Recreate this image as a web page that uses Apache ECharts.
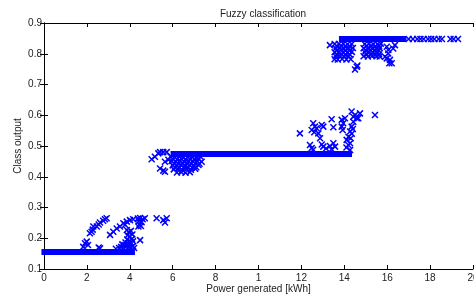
<!DOCTYPE html>
<html>
<head>
<meta charset="utf-8">
<script src="https://cdn.jsdelivr.net/npm/echarts@6/dist/echarts.min.js"></script>
<style>
html, body { margin: 0; padding: 0; background: #fff; }
#chart { width: 474px; height: 297px; }
</style>
</head>
<body>
<div id="chart"></div>
<script>
// axis ticks
var xTicks = [0, 2, 4, 6, 8, 10, 12, 14, 16, 18, 20];
var yTicks = [0.1, 0.2, 0.3, 0.4, 0.5, 0.6, 0.7, 0.8, 0.9];

// the three saturated plateaus (so dense they read as solid bars): [xStart, xEnd, y]
var bandLow = [-0.12, 4.24, 0.155];
var bandMid = [5.9, 14.36, 0.474];
var bandTop = [13.75, 16.9, 0.848];

// scattered points
var lowPts = [
    [1.83, 0.172], [1.91, 0.184], [1.99, 0.189], [2.05, 0.178],
    [2.14, 0.216], [2.22, 0.221], [2.27, 0.228], [2.30, 0.238], [2.46, 0.238], [2.55, 0.245],
    [2.61, 0.251], [2.76, 0.257], [2.84, 0.262], [2.92, 0.265],
    [2.55, 0.170], [2.61, 0.167],
    [3.08, 0.211], [3.23, 0.221], [3.39, 0.232], [3.54, 0.238], [3.70, 0.249], [3.78, 0.244],
    [3.86, 0.254], [4.01, 0.259], [4.16, 0.262],
    [3.86, 0.227], [3.95, 0.220], [4.05, 0.224], [3.90, 0.210], [4.00, 0.205], [4.12, 0.212],
    [3.88, 0.196], [3.98, 0.192], [4.10, 0.198], [3.80, 0.186], [3.92, 0.184], [4.05, 0.186], [4.15, 0.190],
    [3.35, 0.166], [3.50, 0.168], [3.60, 0.172], [3.70, 0.170], [3.75, 0.178], [3.85, 0.175],
    [3.95, 0.172], [4.05, 0.170], [4.15, 0.175], [4.20, 0.168], [3.65, 0.180],
    [4.38, 0.264], [4.48, 0.266], [4.60, 0.262], [4.70, 0.265], [4.42, 0.255], [4.55, 0.252],
    [4.45, 0.245], [4.40, 0.238], [4.52, 0.240], [4.48, 0.194],
    [5.25, 0.265], [5.56, 0.259], [5.72, 0.265], [5.64, 0.251]
];

var midPts = [
    [5.02, 0.457], [5.17, 0.465], [5.33, 0.476], [5.41, 0.480], [5.56, 0.480], [5.72, 0.480],
    [5.41, 0.427], [5.56, 0.420], [5.64, 0.416], [5.64, 0.449], [5.80, 0.455],
    [5.90, 0.466], [6.10, 0.464], [6.30, 0.466], [6.50, 0.463], [6.70, 0.465], [6.90, 0.466], [7.10, 0.463], [7.30, 0.465],
    [6.00, 0.458], [6.20, 0.457], [6.40, 0.459], [6.60, 0.456], [6.80, 0.458], [7.00, 0.457], [7.20, 0.459],
    [5.95, 0.451], [6.15, 0.449], [6.35, 0.452], [6.55, 0.448], [6.75, 0.451], [6.95, 0.450], [7.15, 0.452], [7.35, 0.449],
    [6.05, 0.443], [6.25, 0.444], [6.45, 0.442], [6.65, 0.444], [6.85, 0.443], [7.05, 0.444], [7.25, 0.442],
    [6.00, 0.437], [6.20, 0.436], [6.40, 0.438], [6.60, 0.435], [6.80, 0.438], [7.00, 0.436], [7.20, 0.438],
    [6.10, 0.430], [6.30, 0.431], [6.50, 0.429], [6.70, 0.431], [6.90, 0.430], [7.10, 0.431],
    [6.05, 0.424], [6.25, 0.425], [6.45, 0.422], [6.65, 0.425], [6.85, 0.423], [7.05, 0.426],
    [6.20, 0.414], [6.40, 0.415], [6.60, 0.413], [6.80, 0.415]
];

var upperPts = [
    [11.93, 0.541],
    [12.55, 0.574], [12.63, 0.563], [12.48, 0.552], [12.71, 0.558], [12.95, 0.568], [13.02, 0.563],
    [12.79, 0.541], [12.87, 0.525], [12.60, 0.545],
    [13.41, 0.587], [13.49, 0.561],
    [13.88, 0.585], [13.95, 0.574], [13.88, 0.563], [14.03, 0.590], [13.92, 0.552],
    [14.34, 0.612], [14.50, 0.601], [14.58, 0.590], [14.42, 0.579], [14.34, 0.563], [14.27, 0.547],
    [14.19, 0.530], [14.11, 0.520], [14.27, 0.509], [14.19, 0.503], [14.42, 0.595], [14.73, 0.606],
    [14.65, 0.590], [14.35, 0.540], [14.30, 0.525], [14.40, 0.555],
    [15.43, 0.601],
    [12.40, 0.503], [12.48, 0.493], [13.02, 0.498], [12.95, 0.505], [13.33, 0.500], [13.49, 0.509],
    [13.57, 0.498], [13.41, 0.489], [14.27, 0.487], [12.55, 0.488], [13.15, 0.492], [14.10, 0.495]
];

var topPts = [
    [13.33, 0.828],
    [13.55, 0.832], [13.75, 0.832], [13.95, 0.833], [14.15, 0.831], [14.35, 0.832],
    [13.65, 0.825], [13.85, 0.826], [14.05, 0.824], [14.25, 0.825],
    [13.60, 0.818], [13.80, 0.819], [14.00, 0.817], [14.20, 0.818], [14.40, 0.819],
    [13.65, 0.811], [13.85, 0.812], [14.05, 0.810], [14.25, 0.811],
    [13.55, 0.805], [13.75, 0.806], [13.95, 0.804], [14.15, 0.805], [14.35, 0.806],
    [13.65, 0.798], [13.85, 0.799], [14.05, 0.797], [14.25, 0.798],
    [13.60, 0.792], [13.80, 0.793], [14.00, 0.791], [14.20, 0.792],
    [13.55, 0.782], [13.70, 0.781], [13.90, 0.783], [14.10, 0.781], [14.30, 0.782],
    [14.95, 0.832], [15.15, 0.833], [15.35, 0.831], [15.55, 0.832], [15.70, 0.833],
    [15.05, 0.825], [15.25, 0.826], [15.45, 0.824], [15.62, 0.825],
    [14.90, 0.818], [15.10, 0.819], [15.30, 0.817], [15.50, 0.818], [15.65, 0.819],
    [15.00, 0.811], [15.20, 0.812], [15.40, 0.810], [15.60, 0.811],
    [14.95, 0.805], [15.15, 0.806], [15.35, 0.804], [15.55, 0.805],
    [15.05, 0.798], [15.25, 0.799], [15.45, 0.797], [15.62, 0.798],
    [14.90, 0.792], [15.10, 0.791], [15.30, 0.793], [15.50, 0.792], [15.65, 0.791],
    [14.58, 0.758], [14.50, 0.749], [14.61, 0.762],
    [15.98, 0.823], [16.05, 0.812], [15.90, 0.790], [15.98, 0.785], [16.13, 0.780], [16.21, 0.769],
    [16.28, 0.817], [16.36, 0.828], [16.05, 0.801], [16.10, 0.769],
    [17.00, 0.848], [17.20, 0.848], [17.40, 0.848], [17.55, 0.848], [17.70, 0.848], [17.90, 0.848],
    [18.05, 0.848], [18.20, 0.848], [18.40, 0.848], [18.55, 0.848],
    [18.95, 0.848], [19.10, 0.848], [19.30, 0.848]
];

var blue = '#0000ff';
var font = 'Liberation Sans, Arial, sans-serif';
var crossSymbol = 'path://M0,0L10,10M0,10L10,0';

function band(b) {
    return {
        type: 'line',
        data: [[b[0], b[2]], [b[1], b[2]]],
        symbol: 'none',
        clip: false,
        silent: true,
        lineStyle: { color: blue, width: 6, cap: 'butt' }
    };
}

function pts(d) {
    return {
        type: 'scatter',
        data: d,
        symbol: crossSymbol,
        symbolSize: 6,
        clip: false,
        itemStyle: { color: 'none', borderColor: blue, borderWidth: 1.5, opacity: 1 }
    };
}

function axisCommon(extra) {
    var base = {
        type: 'value',
        axisLine: { show: true, lineStyle: { color: '#000', width: 1 } },
        axisTick: { show: true, inside: true, length: 4, lineStyle: { color: '#000' } },
        splitLine: { show: false },
        axisLabel: { color: '#222', fontSize: 10, fontFamily: font }
    };
    for (var k in extra) base[k] = extra[k];
    return base;
}

var option = {
    animation: false,
    backgroundColor: '#fff',
    title: {
        text: 'Fuzzy classification',
        left: 258,
        textAlign: 'center',
        top: 4,
        textStyle: { fontSize: 10, fontWeight: 'normal', color: '#222', fontFamily: font }
    },
    grid: { left: 44, right: 1, top: 23, bottom: 28, containLabel: false, outerBoundsMode: 'none' },
    xAxis: [
        axisCommon({
            min: xTicks[0], max: xTicks[xTicks.length - 1], interval: 2,
            name: 'Power generated [kWh]', nameLocation: 'middle', nameGap: 15,
            nameMoveOverlap: false,
            nameTextStyle: { fontSize: 10, color: '#222', fontFamily: font },
            axisLabel: {
                color: '#222', fontSize: 10, fontFamily: font, margin: 4,
                showMaxLabel: true,
                formatter: function (v) { return v === 10 ? '1' : String(v); }
            }
        }),
        axisCommon({
            position: 'top', min: xTicks[0], max: xTicks[xTicks.length - 1], interval: 2,
            axisLabel: { show: false }
        })
    ],
    yAxis: [
        axisCommon({
            min: yTicks[0], max: yTicks[yTicks.length - 1], interval: 0.1,
            name: 'Class output', nameLocation: 'middle', nameGap: 21,
            nameMoveOverlap: false,
            nameTextStyle: { fontSize: 10, color: '#222', fontFamily: font },
            axisLabel: {
                color: '#222', fontSize: 10, fontFamily: font, margin: 2,
                formatter: function (v) { return v.toFixed(1); }
            }
        }),
        axisCommon({
            position: 'right', min: yTicks[0], max: yTicks[yTicks.length - 1], interval: 0.1,
            axisLabel: { show: false }
        })
    ],
    series: [
        band(bandLow), band(bandMid), band(bandTop),
        pts(lowPts), pts(midPts), pts(upperPts), pts(topPts)
    ]
};

var chart = echarts.init(document.getElementById('chart'), null, { renderer: 'canvas' });
chart.setOption(option);
</script>
</body>
</html>
